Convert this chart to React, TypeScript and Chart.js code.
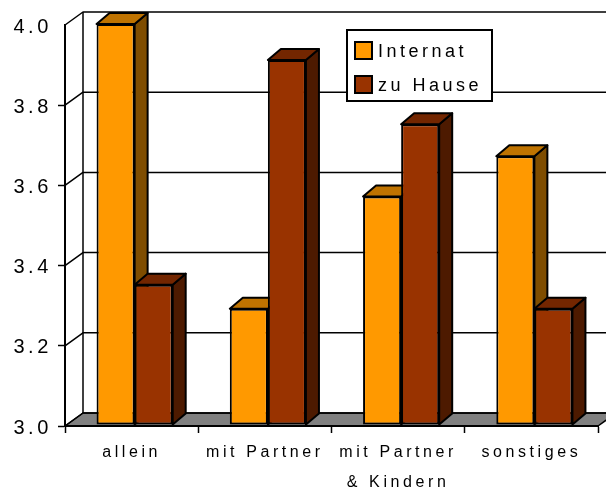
import React, { useEffect, useRef } from "react";
import { Chart, registerables } from "chart.js";

Chart.register(...registerables);

const categories = ["allein", "mit Partner", ["mit Partner", "& Kindern"], "sonstiges"];
const internat = [4.0, 3.29, 3.57, 3.67];
const zuHause = [3.35, 3.91, 3.75, 3.29];
const seriesNames = ["Internat", "zu Hause"];
const frontColors = ["#FF9900", "#993300"];
const topColors = ["#BF7300", "#732600"];
const sideColors = ["#7F4D00", "#4D1A00"];

const FONT = "'Liberation Sans', Arial, sans-serif";
const WALL_DX = 18;
const WALL_DY = 13;
const BAR_DX = 13;
const BAR_DY = 11;
const BAR_SHIFT_X = 3;
const BAR_SHIFT_Y = -1;

function poly(ctx: any, pts: number[][], fill: string | null, lw = 2) {
  ctx.beginPath();
  pts.forEach((p, i) => (i ? ctx.lineTo(p[0], p[1]) : ctx.moveTo(p[0], p[1])));
  ctx.closePath();
  if (fill) {
    ctx.fillStyle = fill;
    ctx.fill();
  }
  ctx.lineWidth = lw;
  ctx.strokeStyle = "#000";
  ctx.lineJoin = "round";
  ctx.stroke();
}

const scene3d = {
  id: "scene3d",
  beforeDraw(chart: any) {
    const { ctx, chartArea: a, scales } = chart;
    ctx.letterSpacing = "3.6px";
    ctx.save();
    poly(
      ctx,
      [
        [a.left, a.bottom],
        [a.left + WALL_DX, a.bottom - WALL_DY],
        [a.right + WALL_DX, a.bottom - WALL_DY],
        [a.right, a.bottom],
      ],
      "#808080",
      1.5
    );
    ctx.strokeStyle = "#000";
    ctx.lineWidth = 1.5;
    scales.y.ticks.forEach((t: any) => {
      const y = scales.y.getPixelForValue(t.value);
      ctx.beginPath();
      ctx.moveTo(a.left, y);
      ctx.lineTo(a.left + WALL_DX, y - WALL_DY);
      ctx.lineTo(chart.width, y - WALL_DY);
      ctx.stroke();
    });
    ctx.beginPath();
    ctx.moveTo(a.left + WALL_DX, a.top - WALL_DY);
    ctx.lineTo(a.left + WALL_DX, a.bottom - WALL_DY);
    ctx.stroke();
    ctx.restore();
  },
  beforeDatasetsDraw(chart: any) {
    const { ctx } = chart;
    ctx.save();
    ctx.translate(BAR_SHIFT_X, BAR_SHIFT_Y);
    chart.data.datasets.forEach((_: any, di: number) => {
      chart.getDatasetMeta(di).data.forEach((bar: any) => {
        const l = bar.x - bar.width / 2;
        const r = bar.x + bar.width / 2;
        poly(
          ctx,
          [
            [r, bar.y],
            [r + BAR_DX, bar.y - BAR_DY],
            [r + BAR_DX, bar.base - BAR_DY],
            [r, bar.base],
          ],
          sideColors[di]
        );
        poly(
          ctx,
          [
            [l, bar.y],
            [l + BAR_DX, bar.y - BAR_DY],
            [r + BAR_DX, bar.y - BAR_DY],
            [r, bar.y],
          ],
          topColors[di]
        );
      });
    });
  },
  afterDatasetsDraw(chart: any) {
    chart.ctx.restore();
  },
  afterDraw(chart: any) {
    const { ctx } = chart;
    ctx.save();
    ctx.fillStyle = "#fff";
    ctx.strokeStyle = "#000";
    ctx.lineWidth = 2;
    ctx.fillRect(347, 30, 145, 71);
    ctx.strokeRect(347, 30, 145, 71);
    ctx.font = `18px ${FONT}`;
    ctx.letterSpacing = "3.5px";
    ctx.textBaseline = "middle";
    ctx.textAlign = "left";
    seriesNames.forEach((name, i) => {
      const y = 42 + i * 34;
      ctx.fillStyle = frontColors[i];
      ctx.fillRect(355, y, 17, 17);
      ctx.strokeRect(355, y, 17, 17);
      ctx.fillStyle = "#000";
      ctx.fillText(name, 378, y + 10);
    });
    ctx.restore();
  },
};

export default function App() {
  const ref = useRef<HTMLCanvasElement>(null);
  useEffect(() => {
    const chart = new Chart(ref.current as any, {
      type: "bar",
      data: {
        labels: categories as any,
        datasets: [internat, zuHause].map((d, i) => ({
          label: seriesNames[i],
          data: d,
          base: 3,
          categoryPercentage: 0.5714,
          barPercentage: 1,
          backgroundColor: frontColors[i],
          borderColor: "#000",
          borderWidth: 2,
          borderSkipped: false,
          clip: false as any,
        })),
      },
      options: {
        responsive: false,
        animation: false,
        layout: { padding: { top: 25, right: 8, left: 0, bottom: 0 } },
        plugins: { legend: { display: false }, tooltip: { enabled: false } },
        scales: {
          x: {
            grid: {
              offset: true,
              drawOnChartArea: false,
              drawTicks: true,
              tickLength: 7,
              tickColor: "#000",
              tickWidth: 1.5,
            },
            border: { display: true, color: "#000", width: 2 },
            ticks: {
              autoSkip: false,
              maxRotation: 0,
              minRotation: 0,
              padding: 5,
              color: "#000",
              font: { family: FONT, size: 16, lineHeight: 1.875 },
            },
            afterFit(s: any) {
              s.height = 63;
            },
          } as any,
          y: {
            min: 3,
            max: 4,
            grid: {
              drawOnChartArea: false,
              drawTicks: true,
              tickLength: 7,
              tickWidth: 1.5,
              tickColor: (c: any) => (c.tick && c.tick.value >= 4 ? "rgba(0,0,0,0)" : "#000"),
            },
            border: { display: true, color: "#000", width: 2 },
            ticks: {
              stepSize: 0.2,
              padding: 6,
              labelOffset: 2,
              color: "#000",
              font: { family: FONT, size: 20 },
              callback: (v: any) => Number(v).toFixed(1),
            },
            afterFit(s: any) {
              s.width = 65;
            },
          } as any,
        },
      },
      plugins: [scene3d as any],
    });
    return () => chart.destroy();
  }, []);
  return (
    <div style={{ position: "absolute", left: 0, top: 0, width: 606, height: 489, background: "#fff" }}>
      <canvas ref={ref} width={606} height={489} style={{ display: "block" }} />
    </div>
  );
}
